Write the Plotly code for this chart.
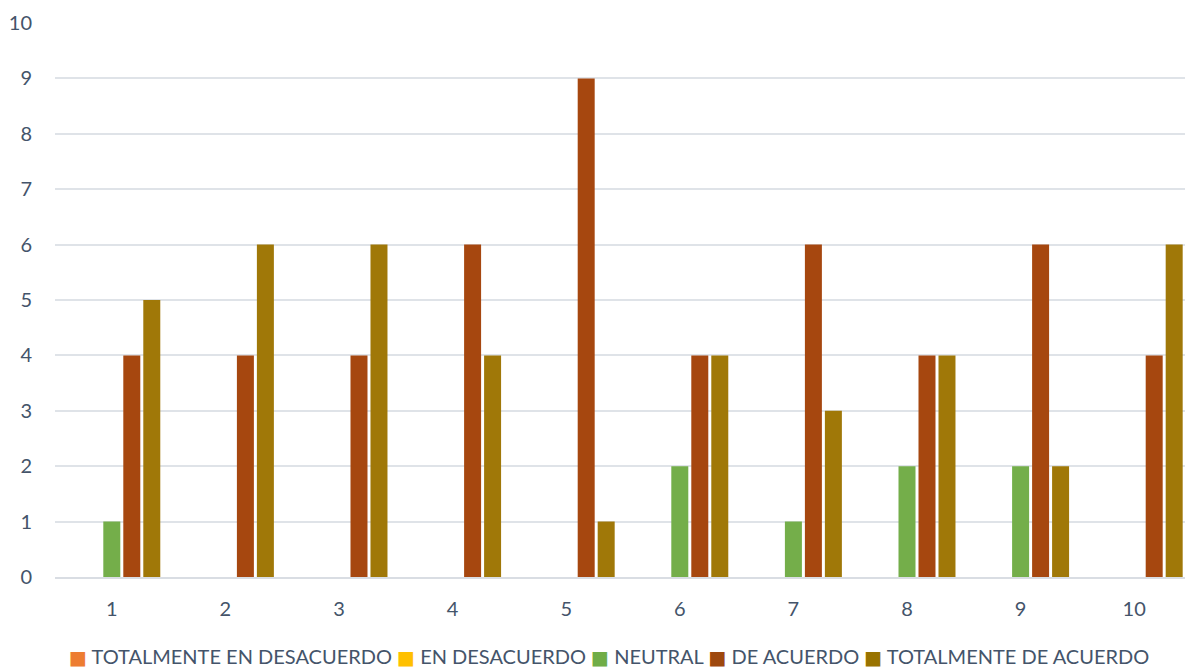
import plotly.graph_objects as go

categories = ["1", "2", "3", "4", "5", "6", "7", "8", "9", "10"]
series_names = ["TOTALMENTE EN DESACUERDO", "EN DESACUERDO", "NEUTRAL", "DE ACUERDO", "TOTALMENTE DE ACUERDO"]
totalmente_en_desacuerdo = [0, 0, 0, 0, 0, 0, 0, 0, 0, 0]
en_desacuerdo = [0, 0, 0, 0, 0, 0, 0, 0, 0, 0]
neutral = [1, 0, 0, 0, 0, 2, 1, 2, 2, 0]
de_acuerdo = [4, 4, 4, 6, 9, 4, 6, 4, 6, 4]
totalmente_de_acuerdo = [5, 6, 6, 4, 1, 4, 3, 4, 2, 6]
y_ticks = [0, 1, 2, 3, 4, 5, 6, 7, 8, 9, 10]

series_values = [totalmente_en_desacuerdo, en_desacuerdo, neutral, de_acuerdo, totalmente_de_acuerdo]
colors = ["#ed7d31", "#ffc000", "#74ae4a", "#a6470f", "#a07808"]
legend_colors = ["#ed7d31", "#ffc000", "#70ad47", "#9e480e", "#997300"]

text_color = "#44546a"
font_family = "Lato, 'Open Sans', sans-serif"

fig = go.Figure()
for name, vals, col in zip(series_names, series_values, colors):
    fig.add_trace(go.Bar(
        x=categories, y=vals, name=name,
        marker=dict(color=col, line=dict(width=0)),
    ))

# Legend drawn as one line of rich text
parts = []
for name, col in zip(series_names, legend_colors):
    parts.append(f"<span style='color:{col};font-family:DejaVu Sans;font-size:19px'>■</span> {name}")
legend_text = " ".join(parts)
fig.add_annotation(
    text=legend_text, xref="paper", yref="paper", x=0.488, y=-0.142,
    xanchor="center", yanchor="middle", showarrow=False,
    font=dict(size=20, color=text_color, family=font_family),
)

fig.update_layout(
    width=1185, height=663,
    margin=dict(l=47, r=2, t=15, b=94),
    paper_bgcolor="white", plot_bgcolor="white",
    barmode="group", bargap=0.12, bargroupgap=0.15,
    showlegend=False,
    font=dict(family=font_family, size=20, color=text_color),
    xaxis=dict(type="category", showgrid=False, showline=True, linecolor="#d9dde3",
               linewidth=2, ticks="", ticklabelstandoff=13, automargin=False,
               tickfont=dict(size=20, color=text_color)),
    yaxis=dict(range=[0, 10], tickvals=y_ticks, showgrid=True, gridcolor="#dfe3e8",
               gridwidth=2, zeroline=False, ticks="", ticklabelstandoff=22, automargin=False,
               tickfont=dict(size=20, color=text_color)),
)

fig.write_html("out.html")
